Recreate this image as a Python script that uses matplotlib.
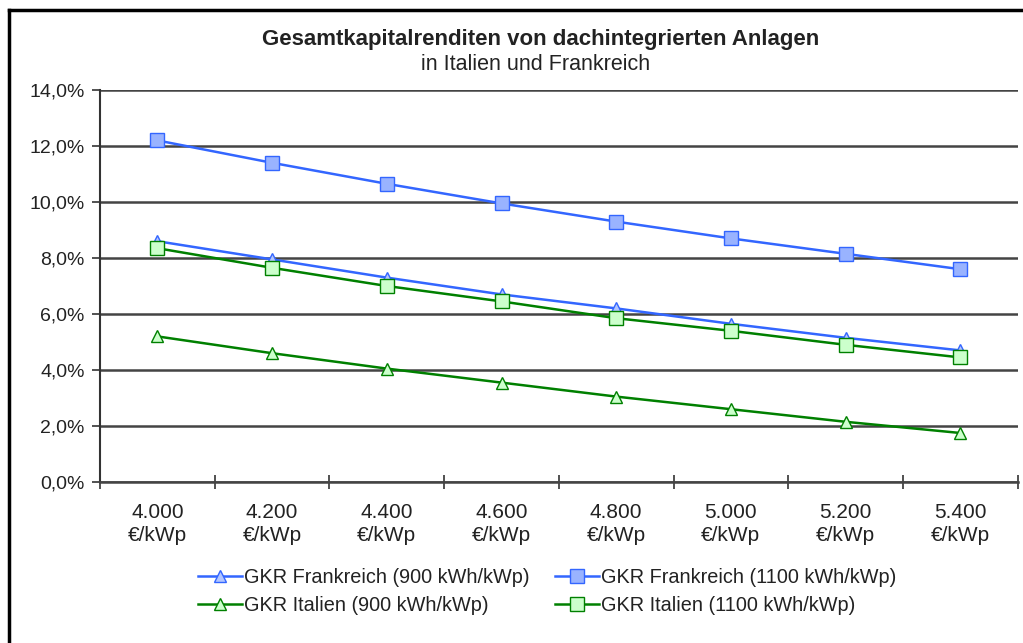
import matplotlib.pyplot as plt
import numpy as np
from matplotlib.lines import Line2D

plt.rcParams['font.family'] = ['Liberation Sans', 'DejaVu Sans']

# data
preise = ["4.000", "4.200", "4.400", "4.600", "4.800", "5.000", "5.200", "5.400"]
fr_900 = [8.6, 7.95, 7.3, 6.7, 6.2, 5.65, 5.15, 4.7]
fr_1100 = [12.2, 11.4, 10.65, 9.95, 9.3, 8.7, 8.15, 7.6]
it_900 = [5.2, 4.6, 4.05, 3.55, 3.05, 2.6, 2.15, 1.75]
it_1100 = [8.35, 7.65, 7.0, 6.45, 5.85, 5.4, 4.9, 4.45]

blue = "#3366FF"
green = "#008000"

fig = plt.figure(figsize=(10.23, 6.43), dpi=100)
ax = fig.add_axes([0.0978, 0.2504, 0.897, 0.6096])

x = np.arange(len(preise))

ax.plot(x, fr_900, color=blue, lw=1.8, marker="^", ms=9, mfc="#B3C6FF", mec=blue,
        label="GKR Frankreich (900 kWh/kWp)", zorder=4)
ax.plot(x, fr_1100, color=blue, lw=1.8, marker="s", ms=9.5, mfc="#99B3FF", mec=blue,
        label="GKR Frankreich (1100 kWh/kWp)", zorder=4)
ax.plot(x, it_900, color=green, lw=1.8, marker="^", ms=9, mfc="#CCFFCC", mec=green,
        label="GKR Italien (900 kWh/kWp)", zorder=4)
ax.plot(x, it_1100, color=green, lw=1.8, marker="s", ms=9.5, mfc="#CCFFCC", mec=green,
        label="GKR Italien (1100 kWh/kWp)", zorder=4)

ax.set_xlim(-0.5, len(preise) - 0.5)
ax.set_ylim(0, 14)
yt = np.arange(0, 15, 2)
ax.set_yticks(yt)
ax.set_yticklabels([f"{v:.1f}%".replace(".", ",") for v in yt], fontsize=14, color="#222222")
ax.yaxis.grid(True, color="#444444", lw=1.8)
ax.set_axisbelow(True)

# category boundaries as ticks, labels at centres
ax.set_xticks(np.arange(-0.5, len(preise), 1.0))
ax.set_xticklabels([])
ax.set_xticks(x, minor=True)
ax.set_xticklabels([p + "\n€/kWp" for p in preise], minor=True, fontsize=15,
                   color="#222222", linespacing=1.3)
ax.tick_params(axis="x", which="major", direction="inout", length=10, width=1.2, color="#333333")
ax.tick_params(axis="x", which="minor", length=0, pad=15)
ax.tick_params(axis="y", direction="out", length=6, width=1.2, color="#333333", pad=5)

for s in ["top", "right"]:
    ax.spines[s].set_visible(False)
ax.spines["left"].set_color("#333333")
ax.spines["left"].set_linewidth(1.5)
ax.spines["bottom"].set_color("#444444")
ax.spines["bottom"].set_linewidth(1.8)

fig.text(0.528, 0.939, "Gesamtkapitalrenditen von dachintegrierten Anlagen",
         ha="center", va="center", fontsize=16, fontweight="bold", color="#222222")
fig.text(0.524, 0.900, "in Italien und Frankreich", ha="center", va="center",
         fontsize=15.5, color="#222222")

handles, labels = ax.get_legend_handles_labels()
order = [0, 2, 1, 3]
leg = fig.legend([handles[i] for i in order], [labels[i] for i in order],
                 ncol=2, loc="center", bbox_to_anchor=(0.535, 0.080), frameon=False,
                 fontsize=14.3, handlelength=2.2, handletextpad=0.1, columnspacing=1.3,
                 labelspacing=0.45, borderaxespad=0)
for t in leg.get_texts():
    t.set_color("#222222")

# outer frame (top and left edges visible)
fig.add_artist(Line2D([0.009, 1.0], [0.984, 0.984], color="black", lw=2.5, transform=fig.transFigure))
fig.add_artist(Line2D([0.009, 0.009], [0.0, 0.984], color="black", lw=2.5, transform=fig.transFigure))

fig.savefig("out.png", dpi=100)
